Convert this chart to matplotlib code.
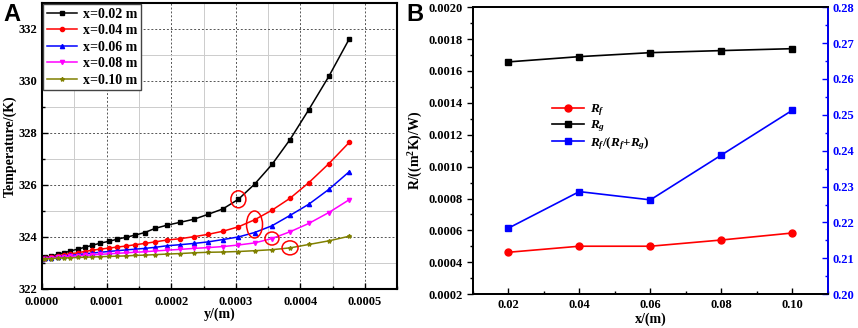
import numpy as np
import matplotlib
matplotlib.use('Agg')
import matplotlib.pyplot as plt
from matplotlib.patches import Ellipse
from matplotlib.ticker import MultipleLocator, FormatStrFormatter

plt.rcParams['font.family'] = ['Liberation Serif', 'DejaVu Serif']
plt.rcParams['font.weight'] = 'bold'
plt.rcParams['mathtext.fontset'] = 'custom'
plt.rcParams['mathtext.rm'] = 'Liberation Serif:bold'
plt.rcParams['mathtext.it'] = 'Liberation Serif:italic:bold'
plt.rcParams['mathtext.bf'] = 'Liberation Serif:bold'

# panel A data
y_pos = [0, 0.000005, 0.000014, 0.000024, 0.000034, 0.000044, 0.000055, 0.000066,
         0.000078, 0.00009, 0.000103, 0.000116, 0.00013, 0.000144, 0.000159, 0.000175,
         0.000193, 0.000213, 0.000235, 0.000257, 0.00028, 0.000304, 0.000329, 0.000356,
         0.000384, 0.000413, 0.000444, 0.000476]
T_002 = [323.15, 323.20, 323.25, 323.32, 323.38, 323.45, 323.52, 323.59, 323.67, 323.75,
         323.82, 323.90, 323.98, 324.06, 324.16, 324.32, 324.44, 324.55, 324.67, 324.86,
         325.07, 325.44, 326.02, 326.78, 327.74, 328.89, 330.17, 331.63]
T_004 = [323.15, 323.18, 323.22, 323.26, 323.30, 323.34, 323.38, 323.43, 323.48, 323.52,
         323.56, 323.60, 323.64, 323.69, 323.74, 323.80, 323.87, 323.92, 324.00, 324.09,
         324.21, 324.38, 324.65, 325.02, 325.48, 326.08, 326.81, 327.64]
T_006 = [323.15, 323.17, 323.19, 323.22, 323.25, 323.28, 323.31, 323.34, 323.37, 323.40,
         323.43, 323.46, 323.49, 323.52, 323.55, 323.59, 323.65, 323.69, 323.74, 323.80,
         323.89, 323.99, 324.16, 324.42, 324.82, 325.25, 325.82, 326.51]
T_008 = [323.15, 323.16, 323.18, 323.20, 323.22, 323.24, 323.26, 323.28, 323.30, 323.32,
         323.34, 323.36, 323.38, 323.40, 323.42, 323.45, 323.48, 323.51, 323.55, 323.58,
         323.62, 323.68, 323.76, 323.93, 324.19, 324.51, 324.93, 325.43]
T_010 = [323.15, 323.15, 323.16, 323.17, 323.18, 323.19, 323.20, 323.21, 323.22, 323.23,
         323.24, 323.25, 323.26, 323.28, 323.29, 323.31, 323.33, 323.35, 323.38, 323.40,
         323.41, 323.43, 323.46, 323.50, 323.57, 323.70, 323.84, 324.02]

# panel B data
x_pos = [0.02, 0.04, 0.06, 0.08, 0.10]
Rf = [0.000463, 0.000501, 0.000501, 0.000540, 0.000584]
Rg = [0.001657, 0.001690, 0.001715, 0.001728, 0.001740]
ratio = [0.2184, 0.2286, 0.2263, 0.2388, 0.2513]

fig = plt.figure(figsize=(8.58, 3.28), dpi=100)
ax1 = fig.add_axes([0.049, 0.12, 0.414, 0.871])
ax2 = fig.add_axes([0.551, 0.103, 0.414, 0.875])

# ---- A
lines = [(T_002, 'black', 's', 'x=0.02 m'),
         (T_004, 'red', 'o', 'x=0.04 m'),
         (T_006, 'blue', '^', 'x=0.06 m'),
         (T_008, 'magenta', 'v', 'x=0.08 m'),
         (T_010, '#808000', '*', 'x=0.10 m')]
for T, c, m, lab in lines:
    ax1.plot(y_pos, T, color=c, marker=m, ms=3, lw=1.1, label=lab)

ax1.set_xlim(0, 0.00055)
ax1.set_ylim(322, 333)
ax1.xaxis.set_major_locator(MultipleLocator(0.0001))
ax1.xaxis.set_minor_locator(MultipleLocator(0.00005))
ax1.yaxis.set_major_locator(MultipleLocator(2))
ax1.yaxis.set_minor_locator(MultipleLocator(1))
ax1.xaxis.set_major_formatter(FormatStrFormatter('%.4f'))
ax1.grid(which='major', linestyle=(0, (2, 2)), color='#555555', lw=0.7)
ax1.grid(which='minor', linestyle='-', color='#cccccc', lw=0.7)
ax1.set_axisbelow(True)
ax1.tick_params(which='both', direction='in', labelsize=9)
ax1.tick_params(which='major', length=4, width=1)
ax1.tick_params(which='minor', length=2, width=1)
ax1.tick_params(axis='x', which='major', pad=5)
for s in ax1.spines.values():
    s.set_linewidth(1.5)
ax1.set_xlabel('y/(m)', fontsize=10, fontweight='bold', labelpad=0)
ax1.set_ylabel('Temperature/(K)', fontsize=10, fontweight='bold', labelpad=1)
ax1.legend(loc='upper left', fontsize=10, frameon=True, fancybox=False,
           edgecolor='#444444', framealpha=1, handlelength=2.2, labelspacing=0.25,
           borderpad=0.25, borderaxespad=0.1, handletextpad=0.4)

# red ellipses on the highlighted points
circles = [(y_pos[21], T_002[21], 15, 17),
           (y_pos[22], T_004[22] - 0.18, 16, 27),
           (y_pos[23], T_008[23], 14, 13),
           (y_pos[24], T_010[24], 16, 14)]
px_x = 0.00055 / (0.414 * 858)
px_y = 11 / (0.871 * 328)
for cx, cy, w, h in circles:
    ax1.add_patch(Ellipse((cx, cy), w * px_x, h * px_y, fill=False,
                          edgecolor='red', lw=1.1, zorder=5))

fig.text(0.004, 0.935, 'A', fontsize=17, fontweight='bold', family='Liberation Sans')

# ---- B
ax2.plot(x_pos, Rf, color='red', marker='o', ms=5, lw=1.2, label='$R_f$')
ax2.plot(x_pos, Rg, color='black', marker='s', ms=4.5, lw=1.2, label='$R_g$')
ax3 = ax2.twinx()
ax3.plot(x_pos, ratio, color='blue', marker='s', ms=4.5, lw=1.2)
ax2.plot([], [], color='blue', marker='s', ms=4.5, lw=1.2, label='$R_f/(R_f$+$R_g)$')

ax2.set_xlim(0.01, 0.11)
ax2.set_ylim(0.0002, 0.0020)
ax3.set_ylim(0.20, 0.28)
ax2.xaxis.set_major_locator(MultipleLocator(0.02))
ax2.xaxis.set_minor_locator(MultipleLocator(0.01))
ax2.yaxis.set_major_locator(MultipleLocator(0.0002))
ax2.yaxis.set_minor_locator(MultipleLocator(0.0001))
ax3.yaxis.set_major_locator(MultipleLocator(0.01))
ax3.yaxis.set_minor_locator(MultipleLocator(0.005))
ax2.xaxis.set_major_formatter(FormatStrFormatter('%.2f'))
ax2.yaxis.set_major_formatter(FormatStrFormatter('%.4f'))
ax3.yaxis.set_major_formatter(FormatStrFormatter('%.2f'))
ax2.tick_params(axis='x', which='both', direction='in', labelsize=9)
ax2.tick_params(axis='y', which='both', direction='out', labelsize=9)
ax2.tick_params(which='major', length=4, width=1)
ax2.tick_params(which='minor', length=2, width=1)
ax3.tick_params(axis='y', which='both', direction='in', colors='blue', labelsize=9)
ax3.tick_params(which='major', length=4, width=1)
ax3.tick_params(which='minor', length=2, width=1)
for s in ax2.spines.values():
    s.set_linewidth(1.3)
for s in ax3.spines.values():
    s.set_linewidth(1.3)
ax3.spines['right'].set_color('blue')
ax2.set_xlabel('x/(m)', fontsize=10, fontweight='bold', labelpad=1)
ax2.set_ylabel('R/((m$^2$K)/W)', fontsize=10, fontweight='bold', labelpad=2)
ax2.legend(loc='upper left', bbox_to_anchor=(0.19, 0.71), fontsize=9.5, frameon=False,
           handlelength=2.4, labelspacing=0.05, handletextpad=0.5)

fig.text(0.474, 0.935, 'B', fontsize=17, fontweight='bold', family='Liberation Sans')

plt.savefig('out.png', dpi=100)
